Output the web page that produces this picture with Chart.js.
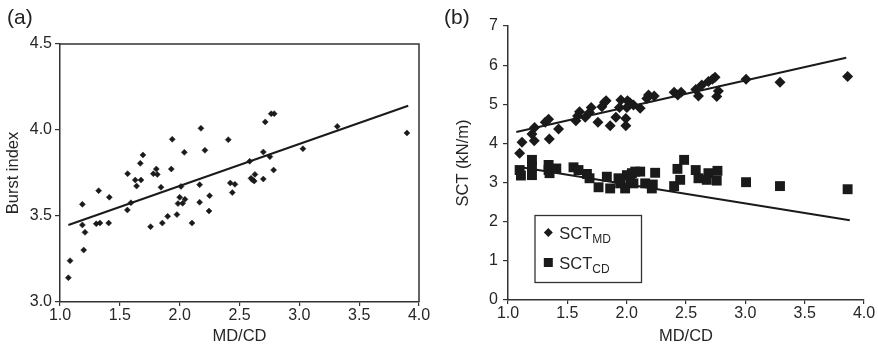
<!DOCTYPE html>
<html><head><meta charset="utf-8">
<script src="https://cdn.jsdelivr.net/npm/chart.js@4.4.1/dist/chart.umd.min.js"></script>
<style>
body{margin:0;background:#fff;width:878px;height:346px;overflow:hidden;position:relative;font-family:"Liberation Sans",Arial,sans-serif;}
.panel{position:absolute;top:0;height:346px;}
.lab{position:absolute;top:6px;font-size:21px;line-height:21px;color:#222;font-family:"Liberation Sans",Arial,sans-serif;}
</style></head><body>
<div class="panel" style="left:0;width:440px"><canvas id="ca" width="440" height="346"></canvas></div>
<div class="panel" style="left:440px;width:438px"><canvas id="cb" width="438" height="346"></canvas></div>
<div class="lab" style="left:7px">(a)</div>
<div class="lab" style="left:444px">(b)</div>
<script>
// ---------- Panel (a): Burst index vs MD/CD ----------
const burstMdcd = [1.07,1.084,1.187,1.187,1.209,1.198,1.303,1.334,1.323,1.407,1.412,1.565,1.563,1.593,1.629,1.640,1.671,1.677,1.693,1.757,1.780,1.805,1.813,1.844,1.855,1.900,1.930,1.938,1.977,1.986,2.0,2.011,2.025,2.044,2.039,2.103,2.167,2.167,2.178,2.211,2.25,2.245,2.406,2.423,2.440,2.462,2.585,2.596,2.610,2.623,2.629,2.699,2.699,2.715,2.754,2.765,2.790,2.785,3.030,3.317,3.899];
const burstIndex = [3.141,3.240,3.568,3.448,3.405,3.302,3.455,3.459,3.647,3.459,3.609,3.746,3.535,3.577,3.709,3.674,3.806,3.709,3.855,3.438,3.746,3.773,3.742,3.667,3.459,3.498,3.773,3.946,3.508,3.572,3.609,3.672,3.574,3.597,3.870,3.459,3.580,3.682,4.010,3.882,3.618,3.529,3.944,3.692,3.636,3.684,3.818,3.719,3.709,3.703,3.742,3.872,3.715,4.047,3.845,4.095,4.095,3.767,3.891,4.021,3.983];
const burstTrendX = [1.07, 3.91];
const burstTrendY = [3.448, 4.141];

// ---------- Panel (b): SCT vs MD/CD ----------
const sctMdX = [1.098,1.118,1.202,1.221,1.224,1.314,1.342,1.348,1.426,1.572,1.586,1.603,1.651,1.701,1.687,1.758,1.791,1.813,1.827,1.861,1.909,1.939,1.951,1.993,1.993,2.002,2.007,2.029,2.057,2.114,2.170,2.184,2.232,2.400,2.459,2.431,2.582,2.605,2.633,2.689,2.723,2.745,2.773,2.759,3.006,3.292,3.862];
const sctMdY = [3.75,4.03,4.24,4.07,4.41,4.54,4.62,4.11,4.37,4.58,4.70,4.81,4.67,4.92,4.79,4.54,4.94,5.05,5.09,4.45,4.67,4.92,5.11,4.64,4.45,4.92,5.09,5.03,4.98,4.90,5.15,5.24,5.21,5.31,5.31,5.24,5.38,5.21,5.49,5.58,5.64,5.69,5.34,5.20,5.64,5.56,5.71];
const sctCdX = [1.098,1.109,1.202,1.202,1.202,1.342,1.342,1.350,1.407,1.552,1.594,1.665,1.687,1.763,1.833,1.861,1.931,1.945,1.987,2.002,2.044,2.057,2.072,2.114,2.156,2.212,2.240,2.220,2.030,2.400,2.428,2.451,2.484,2.582,2.605,2.689,2.675,2.765,2.759,3.006,3.292,3.862];
const sctCdY = [3.32,3.18,3.58,3.41,3.19,3.45,3.32,3.24,3.36,3.39,3.32,3.22,3.11,2.88,3.15,2.85,3.11,2.98,2.85,3.19,3.24,2.98,3.28,3.28,2.98,2.85,3.25,2.95,3.08,2.91,3.35,3.07,3.58,3.32,3.11,3.24,3.07,3.30,3.05,3.01,2.91,2.83];
const sctMdTrendX = [1.07, 3.85];
const sctMdTrendY = [4.29, 6.19];
const sctCdTrendX = [1.07, 3.88];
const sctCdTrendY = [3.41, 2.04];

// ---------- Axes ----------
const xTickValues = [1.0,1.5,2.0,2.5,3.0,3.5,4.0];
const yTickValuesA = [3.0,3.5,4.0,4.5];
const yTickValuesB = [0,1,2,3,4,5,6,7];
const xTitle = 'MD/CD';
const yTitleA = 'Burst index';
const yTitleB = 'SCT (kN/m)';
const legendLabels = [['SCT','MD'],['SCT','CD']];

const zip = (xs, ys) => xs.map((x, i) => ({x, y: ys[i]}));
const FONT = '"Liberation Sans", Arial, sans-serif';
const INK = '#1a1a1a';
const AXIS = '#333';
const TXT = '#262626';

function axisX(h){
  return {
    type:'linear', min:xTickValues[0], max:xTickValues[xTickValues.length-1],
    afterBuildTicks: s => { s.ticks = xTickValues.map(v => ({value:v})); },
    afterFit: s => { s.height = h; },
    grid:{display:true, drawOnChartArea:false, drawTicks:true, tickLength:4, color:AXIS, lineWidth:1.2},
    border:{display:true, color:AXIS, width:1.5},
    ticks:{autoSkip:false, maxRotation:0, padding:0, color:TXT, font:{family:FONT, size:16}, callback:v => Number(v).toFixed(1)},
    title:{display:true, text:xTitle, color:TXT, font:{family:FONT, size:16.5}, padding:{top:0,bottom:0}}
  };
}
function axisY(vals, w, title, dec, tl, pad, titlePad){
  return {
    type:'linear', min:vals[0], max:vals[vals.length-1],
    afterBuildTicks: s => { s.ticks = vals.map(v => ({value:v})); },
    afterFit: s => { s.width = w; },
    grid:{display:true, drawOnChartArea:false, drawTicks:true, tickLength:tl, color:AXIS, lineWidth:1.2},
    border:{display:true, color:AXIS, width:1.5},
    ticks:{autoSkip:false, padding:pad, color:TXT, font:{family:FONT, size:16}, callback:v => Number(v).toFixed(dec)},
    title:{display:true, text:title, color:TXT, font:{family:FONT, size:16.5}, padding:{top:titlePad,bottom:0}}
  };
}

const boxPlugin = {
  id:'frameBox',
  afterDraw(chart){
    const {ctx, chartArea:a} = chart;
    ctx.save();
    ctx.strokeStyle = AXIS; ctx.lineWidth = 1.5;
    ctx.beginPath();
    ctx.moveTo(a.left, a.top); ctx.lineTo(a.right, a.top); ctx.lineTo(a.right, a.bottom);
    ctx.stroke();
    ctx.restore();
  }
};

const legendPlugin = {
  id:'subLegend',
  afterDraw(chart){
    const {ctx, chartArea:a} = chart;
    const bx = a.left + 27, by = a.top + 189.5, bw = 106.5, bh = 67;
    ctx.save();
    ctx.fillStyle = '#fff';
    ctx.fillRect(bx, by, bw, bh);
    ctx.strokeStyle = AXIS; ctx.lineWidth = 1.3;
    ctx.strokeRect(bx, by, bw, bh);
    const rows = [by + 23, by + 53];
    rows.forEach((base, i) => {
      const mx = bx + 13.3, my = base - 6;
      ctx.fillStyle = INK;
      ctx.beginPath();
      if (i === 0) {
        ctx.moveTo(mx, my - 4.5); ctx.lineTo(mx + 4.5, my); ctx.lineTo(mx, my + 4.5); ctx.lineTo(mx - 4.5, my); ctx.closePath();
      } else {
        ctx.rect(mx - 4.5, my - 4.5, 9, 9);
      }
      ctx.fill();
      ctx.fillStyle = TXT;
      ctx.textBaseline = 'alphabetic'; ctx.textAlign = 'left';
      ctx.font = '16.5px ' + FONT;
      const main = legendLabels[i][0];
      ctx.fillText(main, bx + 24.3, base);
      const w = ctx.measureText(main).width;
      ctx.font = '12px ' + FONT;
      ctx.fillText(legendLabels[i][1], bx + 24.3 + w, base + 4);
    });
    ctx.restore();
  }
};

const common = {
  responsive:false, animation:false, events:[], devicePixelRatio:1,
  plugins:{legend:{display:false}, tooltip:{enabled:false}, title:{display:false}}
};

new Chart(document.getElementById('ca'), {
  type:'scatter',
  data:{datasets:[
    {label:'trend', type:'line', data:zip(burstTrendX, burstTrendY), showLine:true, pointRadius:0, borderColor:INK, borderWidth:2, fill:false},
    {label:'Burst index', data:zip(burstMdcd, burstIndex), pointStyle:'rectRot', pointRadius:3, backgroundColor:INK, borderColor:INK, borderWidth:0.5}
  ]},
  options:Object.assign({}, common, {
    layout:{padding:{top:44, right:21, left:0, bottom:0}},
    scales:{x:axisX(44), y:axisY(yTickValuesA, 60, yTitleA, 1, 5, 3, 4)}
  }),
  plugins:[boxPlugin]
});

new Chart(document.getElementById('cb'), {
  type:'scatter',
  data:{datasets:[
    {label:'MD trend', type:'line', data:zip(sctMdTrendX, sctMdTrendY), showLine:true, pointRadius:0, borderColor:INK, borderWidth:2, fill:false},
    {label:'CD trend', type:'line', data:zip(sctCdTrendX, sctCdTrendY), showLine:true, pointRadius:0, borderColor:INK, borderWidth:2, fill:false},
    {label:'SCT MD', data:zip(sctMdX, sctMdY), pointStyle:'rectRot', pointRadius:5.5, backgroundColor:INK, borderColor:INK, borderWidth:0},
    {label:'SCT CD', data:zip(sctCdX, sctCdY), pointStyle:'rect', pointRadius:7, backgroundColor:INK, borderColor:INK, borderWidth:0}
  ]},
  options:Object.assign({}, common, {
    layout:{padding:{top:26, right:14, left:0, bottom:0}},
    scales:{x:axisX(46), y:axisY(yTickValuesB, 68, yTitleB, 0, 5, 5, 14)}
  }),
  plugins:[legendPlugin]
});
</script>
</body></html>
